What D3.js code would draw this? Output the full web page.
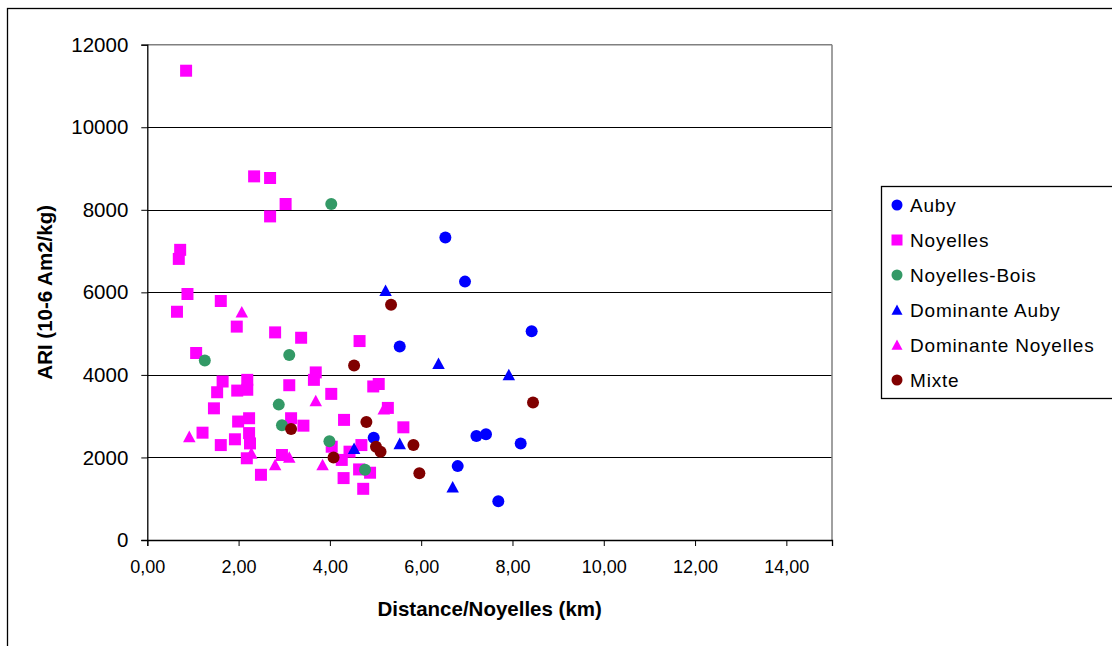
<!DOCTYPE html>
<html><head><meta charset="utf-8">
<script src="https://cdn.jsdelivr.net/npm/d3@7"></script>
<style>
html,body{margin:0;padding:0;background:#fff;}
svg{display:block;font-family:"Liberation Sans",Arial,sans-serif;}
</style></head>
<body>
<svg id="chart" width="1112" height="646"></svg>
<script>
// ---- data ----
const seriesNames = ["Auby","Noyelles","Noyelles-Bois","Dominante Auby","Dominante Noyelles","Mixte"];
const seriesColors = ["#0000FF","#FF00FF","#339966","#0000FF","#FF00FF","#800000"];
const seriesShapes = ["circle","square","circle","triangle","triangle","circle"];

const aubyX = [6.53,6.96,8.42,5.53,4.96,7.21,7.42,8.18,6.80,7.69];
const aubyY = [7330,6260,5060,4690,2480,2520,2560,2340,1790,940];

const noyellesX = [0.85,2.34,2.69,3.03,2.69,0.72,0.69,0.88,1.61,0.65,1.96,2.80,3.37,4.65,1.07,1.65,1.53,1.46,2.19,2.19,1.97,3.11,3.69,3.65,4.03,4.95,5.07,5.27,4.31,5.61,3.42,3.15,2.23,1.99,2.23,2.25,2.18,1.92,1.61,1.21,4.04,4.69,4.26,4.43,4.30,4.64,4.88,4.73,2.95,2.49];
const noyellesY = [11370,8810,8770,8140,7840,7030,6810,5960,5790,5530,5170,5030,4900,4820,4530,3840,3580,3190,3880,3640,3620,3750,4060,3880,3540,3720,3780,3200,2910,2730,2770,2950,2950,2870,2590,2340,1980,2440,2300,2600,2260,2300,1940,2140,1500,1710,1630,1240,2060,1580];

const boisX = [4.03,1.26,3.11,2.88,2.95,3.99,4.77];
const boisY = [8140,4350,4480,3280,2780,2390,1700];

const domAubyX = [5.22,6.38,7.92,4.53,5.53,6.69];
const domAubyY = [6040,4270,4000,2210,2330,1280];

const domNoyX = [2.07,0.92,3.69,5.18,2.80,3.84,3.11,2.28];
const domNoyY = [5520,2500,3370,3170,1820,1820,2000,2100];

const mixteX = [5.34,4.53,3.15,4.08,4.80,5.01,5.11,5.83,5.96,8.45];
const mixteY = [5700,4230,2690,2000,2860,2260,2140,2300,1620,3330];

const xTicks = [0,2,4,6,8,10,12,14];
const yTicks = [0,2000,4000,6000,8000,10000,12000];
const xTitle = "Distance/Noyelles (km)";
const yTitle = "ARI (10-6 Am2/kg)";

const seriesX = [aubyX,noyellesX,boisX,domAubyX,domNoyX,mixteX];
const seriesY = [aubyY,noyellesY,boisY,domAubyY,domNoyY,mixteY];

// ---- layout ----
const svg = d3.select("#chart");
const L = 147.3, R = 832, T = 44.7, B = 540;
const x = d3.scaleLinear().domain([0,15]).range([L,R]);
const y = d3.scaleLinear().domain([0,12000]).range([B,T]);

// outer frame
svg.append("rect").attr("x",7.5).attr("y",8.5).attr("width",1200).attr("height",800)
  .attr("fill","#fff").attr("stroke","#000").attr("stroke-width",1.3);

// gridlines
svg.append("g").selectAll("line").data(yTicks.filter(d=>d>0 && d<12000)).join("line")
  .attr("x1",L).attr("x2",R).attr("y1",d=>Math.round(y(d))+0.5).attr("y2",d=>Math.round(y(d))+0.5)
  .attr("stroke","#000").attr("stroke-width",1);

// plot border top/right gray
svg.append("line").attr("x1",L).attr("x2",R).attr("y1",T).attr("y2",T).attr("stroke","#808080").attr("stroke-width",1.5);
svg.append("line").attr("x1",R).attr("x2",R).attr("y1",T).attr("y2",B).attr("stroke","#808080").attr("stroke-width",1.5);

// axes
const yAxis = d3.axisLeft(y).tickValues(yTicks).tickSize(6).tickPadding(13).tickFormat(d=>String(d));
const gy = svg.append("g").attr("transform",`translate(${L},0)`).call(yAxis);
gy.select(".domain").attr("stroke","#000").attr("stroke-width",1.3);
gy.selectAll(".tick line").attr("stroke","#000");
gy.selectAll(".tick text").attr("font-size","20.5px").attr("fill","#000")
  .attr("font-family","'Liberation Sans',Arial,sans-serif");

const fmt = d => d.toFixed(2).replace(".",",");
const xAxis = d3.axisBottom(x).tickValues(xTicks).tickSize(6).tickPadding(14).tickFormat(fmt);
const gx = svg.append("g").attr("transform",`translate(0,${B})`).call(xAxis);
gx.select(".domain").attr("stroke","#000").attr("stroke-width",1.3);
gx.selectAll(".tick line").attr("stroke","#000");
gx.selectAll(".tick text").attr("font-size","18px").attr("fill","#000")
  .attr("font-family","'Liberation Sans',Arial,sans-serif");

// titles
svg.append("text").attr("x",(L+R)/2).attr("y",616).attr("text-anchor","middle")
  .attr("font-size","20.5px").attr("font-weight","bold").text(xTitle);
svg.append("text").attr("transform",`translate(52,${(T+B)/2}) rotate(-90)`).attr("text-anchor","middle")
  .attr("font-size","20.5px").attr("font-weight","bold").text(yTitle);

// marker paths
function shapePath(shape, s){
  const h = s/2;
  if(shape==="square") return `M${-h},${-h}H${h}V${h}H${-h}Z`;
  if(shape==="triangle") return `M0,${-h}L${h},${h*0.85}L${-h},${h*0.85}Z`;
  return d3.symbol(d3.symbolCircle, Math.PI*h*h)();
}

// points
const plot = svg.append("g");
seriesNames.forEach((name,i)=>{
  const pts = seriesX[i].map((v,j)=>({x:v,y:seriesY[i][j]}));
  plot.append("g").selectAll("path").data(pts).join("path")
    .attr("transform",d=>`translate(${x(d.x)},${y(d.y)})`)
    .attr("d",shapePath(seriesShapes[i], seriesShapes[i]==="circle"?12:(seriesShapes[i]==="square"?12:12.5)))
    .attr("fill",seriesColors[i]);
});

// legend
const lg = svg.append("g");
lg.append("rect").attr("x",881.5).attr("y",186.5).attr("width",300).attr("height",212)
  .attr("fill","#fff").attr("stroke","#000").attr("stroke-width",1.3);
seriesNames.forEach((name,i)=>{
  const cy = 205 + i*35;
  lg.append("path").attr("transform",`translate(897,${cy})`)
    .attr("d",shapePath(seriesShapes[i], 11)).attr("fill",seriesColors[i]);
  lg.append("text").attr("x",910).attr("y",cy+7).attr("font-size","19px")
    .attr("letter-spacing","0.8px").text(name);
});
</script>
</body></html>
